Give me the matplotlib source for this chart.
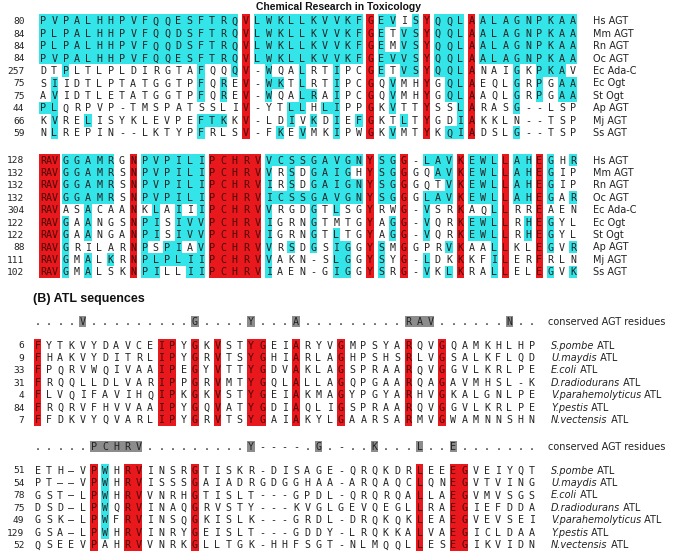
import matplotlib
matplotlib.use("Agg")
import matplotlib.pyplot as plt
from matplotlib.patches import Rectangle

# ---------------- data ----------------
TITLE = "Chemical Research in Toxicology"
SECTION_B = "(B) ATL sequences"
CONSERVED_LABEL = "conserved AGT residues"

agt_names = ["Hs AGT", "Mm AGT", "Rn AGT", "Oc AGT", "Ec Ada-C",
             "Ec Ogt", "St Ogt", "Ap AGT", "Mj AGT", "Ss AGT"]

agt1_start = [80, 84, 84, 84, 257, 75, 75, 44, 66, 59]
agt1_seq = [
    "PVPALHHPVFQQESFTRQVLWKLLKVVKFGEVISYQQLAALAGNPKAA",
    "PLPALHHPVFQQDSFTRQVLWKLLKVVKFGETVSYQQLAALAGNPKAA",
    "PLPALHHPVFQQDSFTRQVLWKLLKVVKFGEMVSYQQLAALAGNPKAA",
    "PVPALHHPVFQQESFTRQVLWKLLKVVKFGEVVSYQQLAALAGNPKAA",
    "DTPLTLPLDIRGTAFQQQV-WQALRTIPCGETVSYQQLANAIGKPKAV",
    "SIIDTLPTATGGTPFQREV-WKTLRTIPCGQVMHYGQLAEQLGRPGAA",
    "AVIDTLETATGGTPFQREV-WQALRAIPCGQVMHYGQLAAQLGRPGAA",
    "PLQRPVP-TMSPATSSLIV-YTLLHLIPPGKVTTYSSLARASG--LSP",
    "KVRELISYKLEVPEFTKKV-LDIVKDIEFGKTLTYGDIAKKLN--TSP",
    "NLREPIN--LKTYPFRLSV-FKEVMKIPWGKVMTYKQIADSLG--TSP",
]
agt1_red_cols = [18, 29, 34, 38]
_top1 = list(range(0, 18)) + list(range(19, 29))
agt1_cyan = [
    _top1 + [30, 31, 33, 35, 36, 37] + list(range(39, 48)),
    _top1 + [30, 32, 33, 35, 36, 37] + list(range(39, 48)),
    _top1 + [30, 32, 33, 35, 36, 37] + list(range(39, 48)),
    _top1 + [30, 31, 32, 33, 35, 36, 37] + list(range(39, 48)),
    [2, 14, 17, 20, 23, 26, 30, 32, 33, 35, 36, 37, 42, 44, 45, 46],
    [1, 14, 16, 20, 21, 23, 26, 31, 36, 37, 42, 44, 46, 47],
    [1, 14, 16, 20, 23, 24, 26, 31, 36, 37, 42, 44, 46, 47],
    [0, 1, 22, 23, 25, 26, 31, 37, 42],
    [1, 4, 14, 15, 16, 22, 24, 26, 28, 32, 37],
    [1, 14, 21, 23, 26, 31, 36, 37, 42],
]

agt2_start = [128, 132, 132, 132, 304, 122, 122, 88, 111, 102]
agt2_seq = [
    "RAVGGAMRGNPVPILIPCHRVVCSSGAVGNYSGG-LAVKEWLLAHEGHR",
    "RAVGGAMRSNPVPILIPCHRVVRSDGAIGHYSGGGQAVKEWLLAHEGIP",
    "RAVGGAMRSNPVPILIPCHRVIRSDGAIGNYSGGGQTVKEWLLAHEGIP",
    "RAVGGAMRSNPVPILIPCHRVICSSGAVGNYSGGGLAVKEWLLAHEGAR",
    "RAVASACAANKLAIIIPCHRVVRGDGTLSGYRWG-VSRKAQLLRREAEN",
    "RAVGAANGSNPISIVVPCHRVIGRNGTMTGYAGG-VQRKEWLLRHEGYL",
    "RAVGAANGANPISIVVPCHRVIGRNGTLTGYAGG-VQRKEWLLRHEGYL",
    "RAVGRILARNPSPIAVPCHRVVRSDGSIGGYSMGGPRVKAALLKLEGVR",
    "RAVGMALKRNPLPLIIPCHRVVAKN-SLGGYSYG-LDKKKFILERFRLN",
    "RAVGMALSKNPILLIIPCHRVIAEN-GIGGYSRG-VKLKRALLELEGVK",
]
agt2_red_cols = [0, 1, 2, 9, 16, 17, 18, 19, 20, 30, 33, 38, 42, 45]
agt2_cyan = [
    [3, 4, 5, 6, 7, 10, 11, 12, 13, 14, 15, 21, 22, 23, 24, 25, 26, 27, 28, 29,
     31, 32, 35, 36, 37, 39, 40, 41, 43, 44, 46, 48],
    [3, 4, 5, 6, 7, 10, 11, 12, 13, 14, 15, 21, 23, 25, 26, 27, 28,
     31, 32, 36, 37, 39, 40, 41, 43, 44, 46],
    [3, 4, 5, 6, 7, 10, 11, 12, 13, 14, 15, 21, 23, 25, 26, 27, 28, 29,
     31, 32, 37, 39, 40, 41, 43, 44, 46],
    [3, 4, 5, 6, 7, 10, 11, 12, 13, 14, 15, 21, 22, 23, 24, 25, 26, 27, 28, 29,
     31, 32, 35, 36, 37, 39, 40, 41, 43, 44, 46, 48],
    [5, 11, 13, 15, 21, 25, 27, 35, 41],
    [3, 5, 10, 11, 13, 14, 15, 21, 25, 32, 35, 39, 40, 41, 44, 46],
    [3, 5, 10, 11, 13, 14, 15, 21, 25, 27, 32, 35, 39, 40, 41, 44, 46],
    [3, 10, 12, 13, 15, 21, 23, 25, 27, 28, 31, 37, 41, 46, 48],
    [3, 5, 7, 10, 11, 12, 13, 14, 15, 21, 27, 28, 31, 35, 41],
    [3, 5, 10, 11, 14, 15, 21, 27, 28, 31, 35, 37, 41, 46, 48],
]

atl_species = ["S.pombe", "U.maydis", "E.coli", "D.radiodurans",
               "V.parahemolyticus", "Y.pestis", "N.vectensis"]

atl1_conserved = "....V.........G....Y...A.........RAV......N.."
atl1_start = [6, 9, 33, 31, 4, 84, 7]
atl1_seq = [
    "FYTKVYDAVCEIPYGKVSTYGEIARYVGMPSYARQVGQAMKHLHP",
    "FHAKVYDITRLIPYGRVTSYGHIARLAGHPSHSRLVGSALKFLQD",
    "FPQRVWQIVAAIPEGYVTTYGDVAKLAGSPRAARQVGGVLKRLPE",
    "FRQQLLDLVARIPPGRVMTYGQLALLAGQPGAARQAGAVMHSL-K",
    "FLVQIFAVIHQIPKGKVSTYGEIAKMAGYPGYARHVGKALGNLPE",
    "FRQRVFHVVAAIPYGQVATYGDIAQLIGSPRAARQVGGVLKRLPE",
    "FFDKVYQVARLIPYGRVTSYGAIAKYLGAARSARMVGWAMNNSHN",
]
atl1_red_cols = [0, 11, 12, 14, 16, 19, 20, 23, 27, 33, 36]

atl2_conserved = ".....PCHRV.........Y----.G.-..K...L..E......."
atl2_start = [51, 54, 78, 75, 49, 129, 52]
atl2_seq = [
    "ETH\u2013VPWHRVINSRGTISKR-DISAGE-QRQKDRLEEEGVEIYQT",
    "PT\u2013\u2013VPWHRVISSSGAIADRGDGGHAA-ARQAQCLQNEGVTVING",
    "GST\u2013LPWHRVVNRHGTISLT---GPDL-QRQRQALLAEGVMVSGS",
    "DSD\u2013LPWQRVINAQGRVSTY---KVGLGEVQEGLLRAEGIEFDDA",
    "GSK\u2013LPWFRVINSQGKISLK---GRDL-DRQKQKLEAEGVEVSEI",
    "GSA\u2013LPWHRVINRYGEISLT---GDDY-LRQKKALVAEGICLDAA",
    "QSEEVPAHRVVNRKGLLTGK-HHFSGT-NLMQQLLESEGIKVIDN",
]
atl2_red_cols = [5, 8, 9, 14, 34, 37, 38]
atl2_cyan = [[6], [6], [6], [6], [6], [6], []]

# ---------------- style ----------------
RED = "#e8181c"
CYAN = "#33e4e8"
GRAY = "#8c8c8c"
TXT = "#222222"
TXT_RED = "#4a0808"
SEQ_FONT = "DejaVu Sans Mono"
SEQ_SIZE = 7.2
LAB_FONT = "DejaVu Sans"
LAB_SIZE = 7.0
BOX_W = 7.4

fig = plt.figure(figsize=(6.75, 5.55), dpi=100)
ax = fig.add_axes([0, 0, 1, 1])
ax.set_xlim(0, 675)
ax.set_ylim(555, 0)
ax.axis("off")

PX = 100 / 72.0


def base_off(size):
    return 0.729 * size * PX / 2.0


def marks_for(seq, red_cols, cyan):
    m = []
    for c, ch in enumerate(seq):
        if c in red_cols:
            m.append("r")
        elif c in cyan:
            m.append("c")
        else:
            m.append(".")
    return m


def draw_row(tokens, xc, halfw, marks, y, h, colors, txt_colors):
    n = len(tokens)
    c = 0
    while c < n:
        m = marks[c]
        if m == ".":
            c += 1
            continue
        e = c
        while e + 1 < n and marks[e + 1] == m:
            e += 1
        left = xc[c] - halfw[c]
        right = xc[e] + halfw[e]
        ax.add_patch(Rectangle((left, y - h / 2), right - left, h,
                               facecolor=colors[m], edgecolor="none", lw=0))
        c = e + 1
    for c, tok in enumerate(tokens):
        ax.text(xc[c], y + base_off(SEQ_SIZE), tok, ha="center", va="baseline",
                fontsize=SEQ_SIZE, family=SEQ_FONT,
                color=txt_colors.get(marks[c], TXT))


def draw_agt_block(seqs, starts, red_cols, cyan, y0, pitch_y, x0, p, merge_rav):
    for r, seq in enumerate(seqs):
        y = y0 + r * pitch_y
        m = marks_for(seq, red_cols, cyan[r])
        if merge_rav:
            tokens = [seq[:3]] + list(seq[3:])
            marks = [m[0]] + m[3:]
            xc = [x0 + 0.5 * p + 1.0] + [x0 + (k + 1) * p for k in range(1, len(tokens))]
            halfw = [10.3] + [BOX_W / 2] * (len(tokens) - 1)
        else:
            tokens = list(seq)
            marks = m
            xc = [x0 + k * p for k in range(len(tokens))]
            halfw = [BOX_W / 2] * len(tokens)
        draw_row(tokens, xc, halfw, marks, y, pitch_y + 0.1,
                 {"r": RED, "c": CYAN}, {"r": TXT_RED})
        ax.text(24.5, y + base_off(6.8), str(starts[r]), ha="right", va="baseline",
                fontsize=6.8, family=SEQ_FONT, color=TXT)
        ax.text(593, y + base_off(LAB_SIZE), agt_names[r], ha="left", va="baseline",
                fontsize=LAB_SIZE, family=LAB_FONT, color=TXT)


# Title
ax.text(339, 7, TITLE, ha="center", va="center", fontsize=7.5,
        family="Liberation Sans", fontweight="bold", color="#111111")

# Part A blocks
draw_agt_block(agt1_seq, agt1_start, agt1_red_cols, agt1_cyan,
               20.7, 12.45, 43.0, 11.28, False)
draw_agt_block(agt2_seq, agt2_start, agt2_red_cols, agt2_cyan,
               160.0, 12.42, 43.0, 11.28, True)

# Part B heading
ax.text(33, 299, SECTION_B, ha="left", va="center", fontsize=9,
        family="Liberation Sans", fontweight="bold", color="#111111")

ATL_X0 = 37.7
ATL_P = 11.23
name_artists = []


def draw_conserved(cons, y):
    xc = [ATL_X0 + k * ATL_P for k in range(len(cons))]
    marks = ["g" if ch not in ".-" else "." for ch in cons]
    draw_row(list(cons), xc, [BOX_W / 2] * len(cons), marks, y, 10.5,
             {"g": GRAY}, {})
    ax.text(548.5, y + base_off(LAB_SIZE), CONSERVED_LABEL, ha="left",
            va="baseline", fontsize=LAB_SIZE, family=LAB_FONT, color=TXT)


def draw_atl_block(seqs, starts, red_cols, cyan, y0, pitch_y):
    for r, seq in enumerate(seqs):
        y = y0 + r * pitch_y
        m = marks_for(seq, red_cols, cyan[r])
        xc = [ATL_X0 + k * ATL_P for k in range(len(seq))]
        draw_row(list(seq), xc, [BOX_W / 2] * len(seq), m, y, pitch_y + 0.1,
                 {"r": RED, "c": CYAN}, {"r": TXT_RED})
        ax.text(24.5, y + base_off(6.8), str(starts[r]), ha="right", va="baseline",
                fontsize=6.8, family=SEQ_FONT, color=TXT)
        t = ax.text(551, y + base_off(LAB_SIZE), atl_species[r], ha="left",
                    va="baseline", fontsize=LAB_SIZE, family=LAB_FONT,
                    style="italic", color=TXT)
        name_artists.append((t, y))


draw_conserved(atl1_conserved, 321.7)
draw_atl_block(atl1_seq, atl1_start, atl1_red_cols, [[]] * 7, 345.0, 12.42)
draw_conserved(atl2_conserved, 446.7)
draw_atl_block(atl2_seq, atl2_start, atl2_red_cols, atl2_cyan, 470.0, 12.45)

# append " ATL" after italic species names
fig.canvas.draw()
renderer = fig.canvas.get_renderer()
inv = ax.transData.inverted()
for t, y in name_artists:
    bb = t.get_window_extent(renderer)
    xr = inv.transform((bb.x1, bb.y0))[0]
    ax.text(xr, y + base_off(LAB_SIZE), " ATL", ha="left", va="baseline",
            fontsize=LAB_SIZE, family=LAB_FONT, color=TXT)

fig.savefig("out.png", dpi=100)
